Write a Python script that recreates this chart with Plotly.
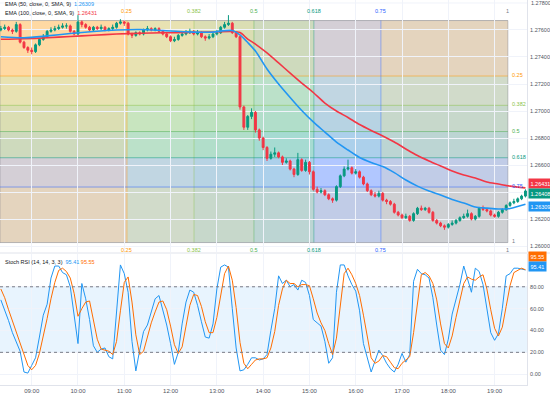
import plotly.graph_objects as go
import pandas as pd

# ---------------- data ----------------
START = "2024-03-12 08:20"
OPEN_FIRST = 1.2760
CLOSE = [1.2761, 1.2762, 1.2760, 1.2759, 1.2764, 1.2751, 1.2747, 1.2745, 1.2744, 1.2749,
         1.2753, 1.2755, 1.2759, 1.2760, 1.2761, 1.2762, 1.2763, 1.2763, 1.2759, 1.2757,
         1.2766, 1.2764, 1.2762, 1.2760, 1.2762, 1.2761, 1.2762, 1.2760, 1.2761, 1.2762,
         1.2765, 1.2766, 1.2765, 1.2757, 1.2756, 1.2758, 1.2757, 1.2760, 1.2761, 1.2760,
         1.2761, 1.2759, 1.2757, 1.2755, 1.2752, 1.2753, 1.2756, 1.2757, 1.2758, 1.2759,
         1.2757, 1.2758, 1.2755, 1.2754, 1.2755, 1.2757, 1.2758, 1.2762, 1.2764, 1.2765,
         1.2758, 1.2755, 1.2703, 1.2688, 1.2696, 1.2699, 1.2686, 1.2680, 1.2673, 1.2665,
         1.2668, 1.2669, 1.2666, 1.2662, 1.2663, 1.2657, 1.2653, 1.2664, 1.2656, 1.2662,
         1.2655, 1.2642, 1.2640, 1.2641, 1.2638, 1.2635, 1.2634, 1.2644, 1.2652, 1.2657,
         1.2658, 1.2654, 1.2655, 1.2651, 1.2646, 1.2641, 1.2638, 1.2637, 1.2639, 1.2634,
         1.2633, 1.2631, 1.2625, 1.2623, 1.2621, 1.2622, 1.2619, 1.2624, 1.2628, 1.2627,
         1.2628, 1.2625, 1.2619, 1.2617, 1.2615, 1.2614, 1.2616, 1.2617, 1.2619, 1.2621,
         1.2622, 1.2624, 1.2620, 1.2622, 1.2628, 1.2627, 1.2626, 1.2623, 1.2622, 1.2625,
         1.2627, 1.2630, 1.2632, 1.2633, 1.2635, 1.2637, 1.26408]
HIGH = [1.2763, 1.2764, 1.2763, 1.2761, 1.2766, 1.2765, 1.2752, 1.2748, 1.2747, 1.2750,
        1.2754, 1.2757, 1.2760, 1.2762, 1.2763, 1.2764, 1.2765, 1.2765, 1.2764, 1.2760,
        1.2771, 1.2767, 1.2765, 1.2763, 1.2763, 1.2763, 1.2764, 1.2763, 1.2762, 1.2764,
        1.2766, 1.2768, 1.2767, 1.2766, 1.2758, 1.2759, 1.2759, 1.2761, 1.2763, 1.2762,
        1.2762, 1.2762, 1.2760, 1.2758, 1.2756, 1.2755, 1.2757, 1.2759, 1.2760, 1.2761,
        1.2760, 1.2760, 1.2759, 1.2756, 1.2757, 1.2758, 1.2760, 1.2763, 1.2766, 1.2771,
        1.2766, 1.2759, 1.2756, 1.2704, 1.2697, 1.2702, 1.2700, 1.2687, 1.2681, 1.2674,
        1.2670, 1.2673, 1.2670, 1.2667, 1.2665, 1.2664, 1.2658, 1.2669, 1.2665, 1.2664,
        1.2663, 1.2656, 1.2644, 1.2643, 1.2642, 1.2639, 1.2636, 1.2645, 1.2653, 1.2659,
        1.2664, 1.2659, 1.2657, 1.2656, 1.2652, 1.2647, 1.2642, 1.2640, 1.2641, 1.2640,
        1.2635, 1.2634, 1.2632, 1.2626, 1.2624, 1.2624, 1.2623, 1.2625, 1.2629, 1.2630,
        1.2629, 1.2629, 1.2626, 1.2620, 1.2618, 1.2616, 1.2617, 1.2619, 1.2620, 1.2622,
        1.2624, 1.2627, 1.2625, 1.2623, 1.2629, 1.2630, 1.2628, 1.2627, 1.2624, 1.2626,
        1.2628, 1.2631, 1.2633, 1.2635, 1.2636, 1.2638, 1.2642]
LOW = [1.2759, 1.2760, 1.2759, 1.2757, 1.2758, 1.2750, 1.2746, 1.2743, 1.2742, 1.2743,
       1.2748, 1.2752, 1.2754, 1.2758, 1.2759, 1.2760, 1.2761, 1.2761, 1.2758, 1.2756,
       1.2756, 1.2762, 1.2761, 1.2759, 1.2759, 1.2760, 1.2760, 1.2759, 1.2759, 1.2760,
       1.2761, 1.2764, 1.2763, 1.2756, 1.2754, 1.2755, 1.2756, 1.2756, 1.2759, 1.2759,
       1.2759, 1.2758, 1.2756, 1.2754, 1.2751, 1.2751, 1.2752, 1.2755, 1.2756, 1.2757,
       1.2756, 1.2756, 1.2754, 1.2752, 1.2753, 1.2754, 1.2756, 1.2757, 1.2761, 1.2763,
       1.2757, 1.2754, 1.2701, 1.2686, 1.2686, 1.2694, 1.2684, 1.2678, 1.2671, 1.2663,
       1.2664, 1.2666, 1.2665, 1.2660, 1.2661, 1.2656, 1.2651, 1.2652, 1.2655, 1.2655,
       1.2653, 1.2641, 1.2639, 1.2639, 1.2637, 1.2634, 1.2632, 1.2633, 1.2643, 1.2651,
       1.2656, 1.2653, 1.2653, 1.2650, 1.2645, 1.2640, 1.2637, 1.2636, 1.2636, 1.2633,
       1.2631, 1.2630, 1.2624, 1.2622, 1.2620, 1.2620, 1.2618, 1.2618, 1.2623, 1.2626,
       1.2626, 1.2624, 1.2618, 1.2616, 1.2614, 1.2612, 1.2613, 1.2615, 1.2616, 1.2618,
       1.2620, 1.2621, 1.2619, 1.2619, 1.2621, 1.2626, 1.2625, 1.2622, 1.2621, 1.2621,
       1.2624, 1.2626, 1.2629, 1.2631, 1.2632, 1.2634, 1.2636]

EMA_IDX = [0, 6, 12, 18, 24, 30, 36, 42, 48, 54, 60, 62, 64, 66, 69, 72, 75, 78, 81, 84,
           87, 90, 93, 96, 99, 102, 105, 108, 111, 114, 117, 120, 123, 126, 129, 132, 136]
EMA50 = [1.27550, 1.27542, 1.27556, 1.27574, 1.27589, 1.27600, 1.27604, 1.27596, 1.27587,
         1.27583, 1.27596, 1.27563, 1.27507, 1.27444, 1.27311, 1.27200, 1.27100, 1.27004,
         1.26919, 1.26844, 1.26770, 1.26711, 1.26656, 1.26619, 1.26589, 1.26544, 1.26489,
         1.26444, 1.26407, 1.26378, 1.26344, 1.26319, 1.26289, 1.26281, 1.26274, 1.26278,
         1.26309]
EMA100 = [1.27531, 1.27535, 1.27542, 1.27552, 1.27561, 1.27570, 1.27576, 1.27579, 1.27581,
          1.27585, 1.27589, 1.27581, 1.27533, 1.27496, 1.27430, 1.27356, 1.27281, 1.27207,
          1.27137, 1.27059, 1.27000, 1.26952, 1.26900, 1.26856, 1.26815, 1.26770, 1.26719,
          1.26670, 1.26630, 1.26593, 1.26556, 1.26526, 1.26504, 1.26474, 1.26459, 1.26444,
          1.26431]

STOCH_K = [68, 59, 49, 38, 30, 21, 2, 1, 8, 15,
           34, 54, 64, 88, 99, 99, 93, 91, 80, 52,
           28, 83, 69, 50, 26, 20, 23, 24, 16, 14,
           60, 100, 92, 75, 30, 3, 22, 39, 45, 57,
           69, 72, 59, 45, 28, 9, 20, 46, 66, 77,
           75, 63, 48, 34, 33, 46, 78, 98, 100, 98,
           60, 24, 3, 4, 9, 15, 15, 13, 14, 18,
           40, 60, 90, 83, 86, 80, 82, 77, 86, 84,
           72, 50, 47, 44, 30, 10, 15, 75, 100, 100,
           90, 82, 76, 58, 28, 15, 2, 12, 22, 17,
           10, 5, 2, 9, 19, 11, 18, 85, 96, 92,
           91, 88, 70, 45, 22, 18, 32, 55, 68, 82,
           99, 86, 75, 97, 94, 82, 58, 38, 31, 37,
           60, 90, 92, 97, 97, 96, 95.41]
STOCH_D = [78, 70, 59, 49, 39, 30, 18, 8, 4, 8,
           19, 34, 51, 69, 84, 95, 97, 94, 88, 74,
           53, 60, 66, 67, 48, 32, 23, 22, 21, 18,
           30, 58, 84, 89, 66, 36, 18, 21, 35, 47,
           57, 66, 67, 59, 44, 27, 19, 25, 44, 63,
           73, 72, 62, 48, 38, 38, 52, 74, 92, 99,
           86, 61, 29, 10, 5, 9, 13, 14, 14, 15,
           24, 39, 63, 78, 86, 83, 83, 80, 82, 82,
           81, 69, 56, 47, 40, 28, 18, 33, 63, 92,
           97, 91, 83, 72, 54, 34, 15, 10, 12, 17,
           16, 11, 6, 5, 10, 13, 16, 38, 66, 91,
           93, 90, 83, 68, 46, 28, 24, 35, 52, 68,
           83, 89, 87, 86, 89, 91, 78, 59, 42, 35,
           43, 62, 81, 93, 95, 97, 95.55]

PRICE_TICKS = [1.260, 1.262, 1.264, 1.266, 1.268, 1.270, 1.272, 1.274, 1.276]
TOP_PRICE_TICK = 1.278
STOCH_TICKS = [0, 20, 40, 60, 80]

GANN_LEVELS = [0, 0.25, 0.382, 0.5, 0.618, 0.75, 1]
GANN_COLORS = ["#787B86", "#FF9800", "#8BC34A", "#4CAF50", "#089981", "#2962FF", "#787B86"]
GANN_T0 = "2024-03-12 08:18:55"
GANN_T1 = "2024-03-12 19:17:14"
GANN_P_TOP = 1.27670
GANN_P_BOT = 1.26026

LEGEND_EMA50 = "EMA (50, close, 0, SMA, 9)"
LEGEND_EMA100 = "EMA (100, close, 0, SMA, 9)"
LEGEND_STOCH = "Stoch RSI (14, 14, 3, 3)"

# ---------------- style ----------------
UP = "#089981"
DOWN = "#F23645"
BLUE = "#2196F3"
RED = "#F23645"
ORANGE = "#FF6D00"
GRID = "#f0f3fa"
AXIS_TXT = "#50535e"
FONT = "Liberation Sans"
X_RANGE = ["2024-03-12 08:18:55", "2024-03-12 19:42:00"]
Y_RANGE = [1.25956, 1.27822]
S_RANGE = [-9.9, 110]
PLOT_H = 385.0

times = pd.date_range(START, periods=len(CLOSE), freq="5min")
opens = [OPEN_FIRST] + CLOSE[:-1]
ema_t = [times[i] for i in EMA_IDX]

fig = go.Figure()
fig.add_trace(go.Candlestick(
    x=times, open=opens, high=HIGH, low=LOW, close=CLOSE,
    increasing=dict(line=dict(color=UP, width=1), fillcolor=UP),
    decreasing=dict(line=dict(color=DOWN, width=1), fillcolor=DOWN),
    whiskerwidth=0, showlegend=False, hoverinfo="skip", xaxis="x", yaxis="y"))
fig.add_trace(go.Scatter(x=ema_t, y=EMA100, mode="lines", showlegend=False,
                         line=dict(color=RED, width=1.6, shape="spline", smoothing=0.8),
                         xaxis="x", yaxis="y"))
fig.add_trace(go.Scatter(x=ema_t, y=EMA50, mode="lines", showlegend=False,
                         line=dict(color=BLUE, width=1.6, shape="spline", smoothing=0.8),
                         xaxis="x", yaxis="y"))
fig.add_trace(go.Scatter(x=times, y=STOCH_K, mode="lines", showlegend=False,
                         line=dict(color=BLUE, width=1), xaxis="x2", yaxis="y2"))
fig.add_trace(go.Scatter(x=times, y=STOCH_D, mode="lines", showlegend=False,
                         line=dict(color=ORANGE, width=1), xaxis="x2", yaxis="y2"))

shapes = []
t0 = pd.Timestamp(GANN_T0)
t1 = pd.Timestamp(GANN_T1)


def gt(l):
    return (t0 + (t1 - t0) * l).strftime("%Y-%m-%d %H:%M:%S")


def gp(l):
    return GANN_P_TOP - (GANN_P_TOP - GANN_P_BOT) * l


ALPHA = 0.2
for j in range(1, len(GANN_LEVELS)):
    c = GANN_COLORS[j]
    shapes.append(dict(type="rect", xref="x", yref="y", x0=gt(GANN_LEVELS[j - 1]), x1=gt(GANN_LEVELS[j]),
                       y0=GANN_P_BOT, y1=GANN_P_TOP, fillcolor=c, opacity=ALPHA, line_width=0, layer="below"))
    shapes.append(dict(type="rect", xref="x", yref="y", x0=gt(0), x1=gt(1),
                       y0=gp(GANN_LEVELS[j]), y1=gp(GANN_LEVELS[j - 1]), fillcolor=c, opacity=ALPHA,
                       line_width=0, layer="below"))
for j, l in enumerate(GANN_LEVELS):
    c = GANN_COLORS[j]
    shapes.append(dict(type="line", xref="x", yref="y", x0=gt(l), x1=gt(l), y0=GANN_P_BOT, y1=GANN_P_TOP,
                       line=dict(color=c, width=1), opacity=0.4, layer="below"))
    shapes.append(dict(type="line", xref="x", yref="y", x0=gt(0), x1=gt(1), y0=gp(l), y1=gp(l),
                       line=dict(color=c, width=1), opacity=0.5, layer="below"))

# stoch band & levels
shapes.append(dict(type="rect", xref="x2 domain", yref="y2", x0=0, x1=1, y0=20, y1=80,
                   fillcolor="rgba(33,150,243,0.10)", line_width=0, layer="below"))
for v in (80, 20):
    shapes.append(dict(type="line", xref="x2 domain", yref="y2", x0=0, x1=1, y0=v, y1=v,
                       line=dict(color="#787B86", width=1, dash="dot")))
# pane separator
shapes.append(dict(type="line", xref="paper", yref="paper", x0=0, x1=1.05, y0=(PLOT_H - 253) / PLOT_H,
                   y1=(PLOT_H - 253) / PLOT_H, line=dict(color="#e0e3eb", width=1)))
# top gridline for the topmost price tick
shapes.append(dict(type="line", xref="x domain", yref="y", x0=0, x1=1, y0=TOP_PRICE_TICK,
                   y1=TOP_PRICE_TICK, line=dict(color=GRID, width=1), layer="below"))

ann = []


def txt(x, y, s, color, size=5.5, **kw):
    d = dict(x=x, y=y, text=s, showarrow=False, font=dict(family=FONT, size=size, color=color))
    d.update(kw)
    ann.append(d)


# Gann labels
for j, l in enumerate(GANN_LEVELS):
    if l == 0:
        continue
    c = GANN_COLORS[j]
    lab = f"{l:g}"
    txt(gt(l), GANN_P_TOP, lab, c, xref="x", yref="y", yshift=10, xanchor="center")
    txt(gt(l), GANN_P_BOT, lab, c, xref="x", yref="y", yshift=-7, xanchor="center")
    txt(gt(1), gp(l), lab, c, xref="x", yref="y", xanchor="left", xshift=2, yshift=1 if l < 1 else 2)

# topmost price-scale label
txt(1, TOP_PRICE_TICK, f"{TOP_PRICE_TICK:.5f}", AXIS_TXT, 5.5, xref="paper", yref="y",
    xanchor="left", yanchor="middle", xshift=2)

# legends
txt(0.006, 1 - 4.5 / PLOT_H, f'{LEGEND_EMA50}  <span style="color:{BLUE}">{EMA50[-1]:.5f}</span>',
    "#131722", 5.5, xref="paper", yref="paper", xanchor="left", yanchor="middle")
txt(0.006, 1 - 13.5 / PLOT_H, f'{LEGEND_EMA100}  <span style="color:{RED}">{EMA100[-1]:.5f}</span>',
    "#131722", 5.5, xref="paper", yref="paper", xanchor="left", yanchor="middle")
txt(0.006, 1 - 262 / PLOT_H,
    f'{LEGEND_STOCH}  <span style="color:{BLUE}">{STOCH_K[-1]:.2f}</span> '
    f'<span style="color:{ORANGE}">{STOCH_D[-1]:.2f}</span>',
    "#131722", 5.5, xref="paper", yref="paper", xanchor="left", yanchor="middle")

# last-value labels on the scales
for val, col, ys, yref in [(EMA100[-1], RED, 4.5, "y"), (CLOSE[-1], UP, -2.5, "y"),
                           (EMA50[-1], BLUE, -2.0, "y"),
                           (STOCH_D[-1], ORANGE, 13.0, "y2"), (STOCH_K[-1], BLUE, 3.5, "y2")]:
    s = f"{val:.5f}" if yref == "y" else f"{val:.2f}"
    ann.append(dict(x=1, y=val, xref="paper", yref=yref, text=s, showarrow=False, xanchor="left",
                    yanchor="middle", xshift=1, yshift=ys, bgcolor=col, borderpad=1.5,
                    font=dict(family=FONT, size=5.5, color="white")))

fig.update_layout(
    width=550, height=400,
    margin=dict(l=0, r=23, t=0, b=15),
    paper_bgcolor="white", plot_bgcolor="white",
    font=dict(family=FONT, size=6, color=AXIS_TXT),
    showlegend=False,
    shapes=shapes, annotations=ann,
    xaxis=dict(domain=[0, 1], anchor="y", range=X_RANGE, type="date", showticklabels=False,
               showgrid=True, gridcolor=GRID, dtick=3600000, tick0="2024-03-12 00:00",
               rangeslider=dict(visible=False), zeroline=False, ticks=""),
    xaxis2=dict(domain=[0, 1], anchor="y2", range=X_RANGE, type="date", matches="x",
                showgrid=True, gridcolor=GRID, dtick=3600000, tick0="2024-03-12 00:00",
                tickformat="%H:%M", tickfont=dict(size=6, color=AXIS_TXT), showline=True,
                linecolor="#e0e3eb", ticks="", zeroline=False),
    yaxis=dict(domain=[(PLOT_H - 252) / PLOT_H, 1], anchor="x", side="right", range=Y_RANGE,
               tickvals=PRICE_TICKS, tickformat=".5f", showgrid=True, gridcolor=GRID,
               tickfont=dict(size=5.5, color=AXIS_TXT), showline=True, linecolor="#e0e3eb",
               zeroline=False, ticks="", ticklabelstandoff=1),
    yaxis2=dict(domain=[0, (PLOT_H - 254) / PLOT_H], anchor="x2", side="right", range=S_RANGE,
                tickvals=STOCH_TICKS, tickformat=".2f", showgrid=True, gridcolor=GRID,
                tickfont=dict(size=5.5, color=AXIS_TXT), showline=True, linecolor="#e0e3eb",
                zeroline=False, ticks="", ticklabelstandoff=1),
)

fig.write_html("out.html", config={"displayModeBar": False},
               post_script="document.body.style.margin='0';document.body.style.padding='0';")
